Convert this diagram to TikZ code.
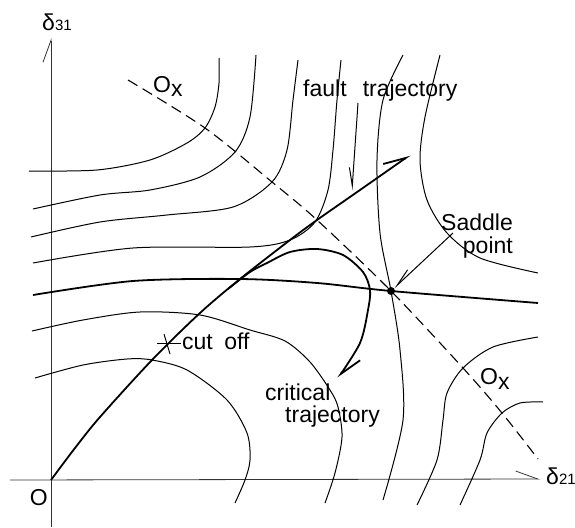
\documentclass[tikz,border=0pt]{standalone}
\usepackage{fontspec}
\setmainfont{Liberation Sans}
\usepackage{tikz}
\usetikzlibrary{arrows.meta}
\newcommand{\dsub}[1]{{\fontsize{15}{15}\selectfont #1}}
\newcommand{\osub}[1]{\raisebox{-5pt}{#1}}

\begin{document}
\begin{tikzpicture}[x=1pt, y=-1pt, font=\fontsize{23}{20}\selectfont,
  lvl/.style={line width=1pt},
  traj/.style={line width=1.8pt},
  axis/.style={line width=0.8pt, black!80},
  sepx/.style={line width=1.1pt, dash pattern=on 11pt off 6pt},
  harp/.style={-{Straight Barb[harpoon, length=22pt, angle'=40]}},
  harpsw/.style={-{Straight Barb[harpoon, swap, length=18pt, angle'=26]}},
  lab/.style={inner sep=0pt}]
\useasboundingbox (0,0) rectangle (575,527);
\coordinate (O) at (51,480);
\coordinate (ytop) at (51,38);
\coordinate (ybot) at (51,527);
\coordinate (xlft) at (10,480);
\coordinate (xrgt) at (540,479);
\draw[axis, harp] (ybot) -- (ytop);
\draw[axis, harp] (xlft) -- (xrgt);
\node[lab, anchor=base west] (d31) at (42,31) {δ\dsub{31}};
\node[lab, anchor=base west] (d21) at (546,484) {δ\dsub{21}};
\node[lab, anchor=base east] (olbl) at (48,505) {O};
% level curves
\draw[lvl] plot[smooth] coordinates {(29,171) (97,170) (150,160) (187,143) (205,128) (215,107) (219,83) (219,58)};
\draw[lvl] plot[smooth] coordinates {(33,209) (100,195) (150,190) (200,177) (235,152) (250,117) (256,55)};
\draw[lvl] plot[smooth] coordinates {(31,237) (100,222) (167,215) (233,207) (272,182) (287,150) (293,100) (298,60)};
\draw[lvl] plot[smooth] coordinates {(33,263) (133,248) (250,247) (290,240) (315,222) (328,190) (333,150) (337,100) (341,60)};
\draw[traj] plot[smooth] coordinates {(33,295) (133,281) (240,279) (317,283) (391,291) (538,303)};
\draw[lvl] plot[smooth] coordinates {(403,55) (383,100) (377,160) (380,233) (391,291) (400,350) (403,420) (383,500)};
\draw[lvl] plot[smooth] coordinates {(440,55) (425,117) (420,160) (427,200) (447,233) (480,258) (538,273)};
\draw[lvl] plot[smooth] coordinates {(538,337) (493,347) (463,368) (447,393) (443,420) (437,460) (417,505)};
\draw[lvl] plot[smooth] coordinates {(543,402) (520,403) (502,413) (487,433) (480,460) (460,505)};
\draw[lvl] plot[smooth] coordinates {(32,331) (83,320) (140,312) (200,315) (250,330) (285,341) (310,362) (330,390) (338,407) (342,437) (335,473) (325,503)};
\draw[lvl] plot[smooth] coordinates {(35,378) (83,365) (127,359) (152,360) (187,370) (227,400) (247,433) (250,460) (245,480) (235,503)};
% separatrix
\draw[sepx] plot[smooth] coordinates {(128,80) (205,128) (272,182) (317,220) (391,291) (463,368) (502,413) (538,459)};
\node[lab, anchor=base west] (ox1) at (153,92) {O\osub{x}};
\node[lab, anchor=base west] (ox2) at (480,384) {O\osub{x}};
% trajectories
\draw[traj, harp] plot[smooth] coordinates {(51,480) (75,448) (100,417) (152,360) (200,313) (240,279) (290,240) (317,220) (360,190) (410,155)};
\draw[traj, harp] plot[smooth] coordinates {(228,289) (250,272) (267,263) (290,252) (317,249) (343,255) (363,272) (370,290) (368,310) (360,343) (338,378)};
\node[circle, fill, inner sep=0pt, minimum size=8pt] (sp) at (391,291) {};
\coordinate (co) at (167,343);
\draw[lvl] (co) ++(-10,0) -- ++(24,0);
\draw[lvl] (co) ++(-3,-9) -- ++(6,20);
% labels and pointers
\node[lab, anchor=base west] (ftlbl) at (303,96) {fault\hspace{0.7em}trajectory};
\coordinate (ftp) at (358,103);
\coordinate (fthit) at (352,190);
\draw[lvl, harpsw] (ftp) -- (fthit);
\node[lab, anchor=north east, align=right] (splbl) at (513,214) {Saddle\\[3pt]point};
\coordinate (spp) at (453,233);
\draw[lvl, harpsw] (spp) -- (sp);
\node[lab, anchor=base west] (colbl) at (182,349) {cut\hspace{0.5em}off};
\node[lab, anchor=north west, align=left] (crlbl) at (265,384) {critical\\[2pt]\hspace*{20pt}trajectory};
\end{tikzpicture}
\end{document}
